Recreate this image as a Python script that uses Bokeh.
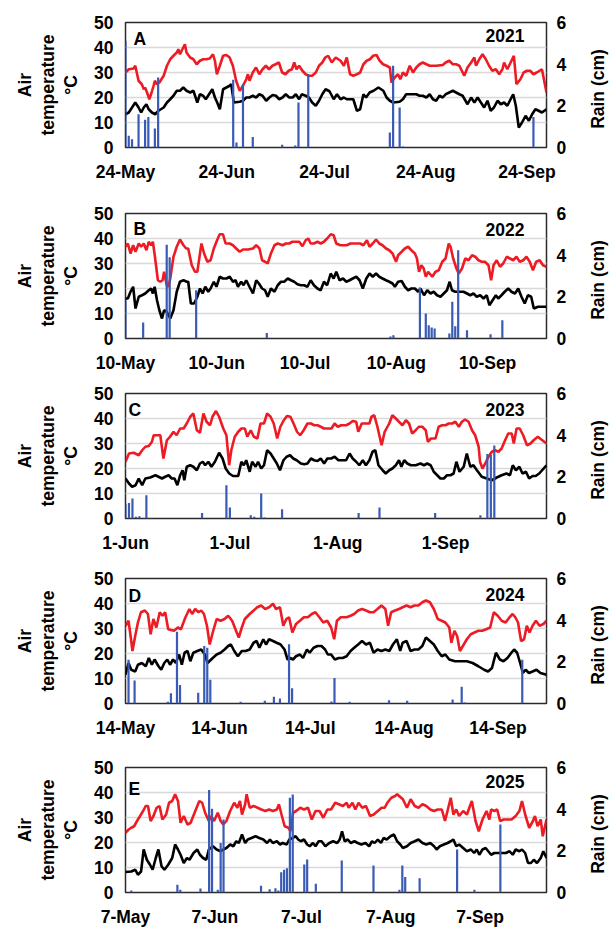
import math
from bokeh.plotting import figure
from bokeh.layouts import column, row
from bokeh.models import Range1d, LinearAxis, FixedTicker, Label
from bokeh.core.properties import value
from bokeh.embed import file_html
from bokeh.resources import INLINE

# ---------------- data (day offset from first date, value) ----------------
# Panel A, 2021: 24-May .. 30-Sep
END_A = 129
TICKS_A = [0, 31, 61, 92, 123]
LABELS_A = ["24-May", "24-Jun", "24-Jul", "24-Aug", "24-Sep"]
TMAX_A = [(0,30),(1,31.3),(2.5,31.6),(3,32.7),(4,26.7),(5,25.3),(5.6,23.3),(6,24),(6.6,22),(7.3,19.3),(8,22),(8.6,24.7),(9,26.7),(9.6,25.3),(10.4,26),(11,27.3),(11.7,28.7),(12.7,32.7),(13.7,35.3),(14.7,36.7),(15.7,38),(16.2,39.3),(16.7,37.3),(17.2,38.7),(18.2,41.3),(18.7,38),(19.8,36),(20.8,35.3),(21.8,33.3),(22.8,34.7),(23.8,35.3),(24.8,35.3),(25.8,35.6),(26.8,37.3),(27.4,34.7),(28,29.3),(28.9,32.7),(29.9,36.7),(30.9,37),(31.9,36),(32.9,32.7),(33.9,26.7),(35,22.7),(36,24.7),(37,27.3),(37.5,29.3),(38,26.7),(39,30),(40,32),(40.5,30.7),(41,29.3),(42,31.3),(43,32.7),(44,31.3),(45,32.7),(46,33.3),(47,34),(48,30),(49,29.3),(50,30.7),(51,31.3),(51.7,34),(52.4,31.3),(53.2,32.7),(54.2,30.7),(55.2,29.3),(56.2,28.7),(57.2,28.7),(58.3,30),(59.3,32.7),(60.3,34),(61.2,36),(62.1,36.7),(63.2,34),(64.4,36),(65.9,34.7),(66.9,32.7),(67.8,36),(68.8,29.3),(69.8,28.7),(70.9,29.3),(71.9,30),(72.9,33.3),(73.9,34.7),(74.9,35.3),(75.9,36.7),(76.9,37),(77.9,34.7),(78.9,33.3),(80,32.7),(81,32),(81.5,26),(82.5,28),(83.5,29.3),(84.2,27.3),(85,30),(86,28.7),(87.1,32.7),(88.1,30),(89.1,32),(90.1,33.3),(91.1,34),(92.2,33.3),(93.2,32.7),(95.2,32.7),(97.2,33),(98.1,34),(99.2,34.7),(100.3,33.3),(101.3,33.3),(102.3,32.7),(103.8,28.7),(104.8,32),(105.9,34),(106.9,36),(107.4,32.7),(108.4,35.3),(109.4,37.3),(110.4,35.3),(111.4,32.7),(112.4,30.7),(113.5,31.3),(114.5,29.3),(115.5,31.3),(116,34),(117,31.3),(118,34),(119,36.7),(119.8,25.3),(121,27.3),(122,30),(123,30.7),(124,30.7),(125,29.3),(126,30),(127.6,31.3),(129,22)]
TMIN_A = [(0,13.3),(1,14),(2,16),(3,18),(4,16),(4.8,14),(5.6,16),(6.4,17.3),(7.1,15.3),(8.1,14),(9.1,13.3),(10.1,14.7),(11.7,16),(12.7,18),(13.7,19.3),(14.7,20.7),(15.7,22.7),(16.7,22.7),(17.7,24),(18.7,22.7),(19.8,22),(20.8,22.7),(22,18),(22.8,21.3),(23.8,20.7),(24.6,19.3),(25.6,21.3),(26.6,23.3),(27.4,20),(28.1,18),(28.9,15.3),(29.9,23.3),(30.9,24),(31.9,24.7),(32.4,25.3),(33.2,18),(35,18.3),(36,18.7),(37,20),(38,20),(39,20.7),(40,20),(41,21.3),(42,20.7),(43.1,18.7),(44.1,20),(45.1,21),(46.1,20.7),(47.1,19.3),(48.1,20),(49.1,21.3),(50.2,20),(51.2,20),(52.2,21.3),(53.2,19.3),(54,21.3),(55.2,20.7),(56.2,20),(57.2,18),(58.3,16.7),(59.3,18.7),(60.3,21.3),(61.3,23.3),(62.5,22.5),(63.8,19.3),(64.8,21.3),(65.9,19.3),(66.9,20),(67.8,19.3),(68.8,19.3),(69.8,19.3),(70.9,14.7),(71.9,15.3),(72.9,21.3),(73.7,20),(74.8,22),(76,22.7),(77.5,24),(79,22.7),(80,20),(81,18.7),(82,18),(84,18.3),(85,19.3),(86,21.3),(88.1,21.3),(89.1,21.3),(90.1,20.7),(91.1,20.7),(92.2,20),(93.2,21.3),(94.2,19.3),(95.2,18.7),(96.2,20.7),(97.2,20),(98.1,21.3),(99.2,22),(100.3,22.7),(101.3,22),(102.3,21.3),(103.3,20.7),(104.8,17.3),(105.9,20),(106.9,18),(107.9,20),(108.9,18),(109.9,16),(110.9,18.7),(111.9,14.7),(112.9,16),(114,18.7),(115,17.3),(116,18),(117,16.7),(118,19.3),(118.8,21.3),(119.6,16.7),(120.5,8),(121.5,10),(122.6,12.7),(123.6,10.7),(124.6,13.3),(125.6,15.3),(126.6,14.7),(127.6,14),(129,15.3)]
RAIN_A = [(0,5.12),(1,0.56),(2,0.4),(4,1.6),(6,1.33),(7,1.47),(9,0.91),(10,3.36),(33,3.25),(34,0.24),(36,3.04),(39,0.5),(48,0.13),(52,0.1),(53,2.16),(56,3.52),(81,0.72),(82,3.92),(84,1.92),(85,0.05),(125,1.47)]

# Panel B, 2022: 10-May .. 30-Sep
END_B = 143
TICKS_B = [0, 31, 61, 92, 123]
LABELS_B = ["10-May", "10-Jun", "10-Jul", "10-Aug", "10-Sep"]
TMAX_B = [(0,36.7),(0.8,38),(1.7,34),(2.6,37.3),(3.4,34.7),(4.5,38),(5.3,36.7),(6.2,38),(7.1,35.3),(7.9,38.7),(8.7,37.3),(9.3,38.7),(10,32.7),(11,23.3),(11.8,22.7),(12.6,23.3),(13.1,26.7),(14,21.3),(14.6,20.7),(15.2,24),(16.3,32.7),(17.4,36.7),(18.5,39.6),(19.7,37.3),(20.6,36),(21.3,36),(22.5,29.3),(23.6,26.7),(24.4,26.7),(25.3,34),(25.8,38),(26.7,34),(27.8,30.7),(28.9,31.3),(30,36),(31.1,39.3),(32,41.7),(33.1,41.7),(34,38),(35.4,38),(36.5,37.3),(37.6,36),(38.8,34.7),(39.9,35.6),(41.6,35.6),(43.3,36),(44.4,37.3),(45.5,36),(46.4,31.3),(47.4,30.7),(48.3,30),(49.4,34),(50.6,37.3),(51.7,38),(53.4,37.3),(54.5,38),(55.6,38),(56.7,38.7),(57.9,38.7),(59,38.7),(60.1,36.9),(61.2,39.3),(62.1,40),(62.9,38),(64,38),(65.2,38.7),(66.3,38),(67.4,38.7),(68.5,40),(69.7,41.7),(70.7,41.3),(71.6,38),(73,37.3),(74.1,37.3),(75.1,37.3),(76.4,38),(77.5,38),(78.6,38),(79.7,38),(80.8,37.3),(82,39.3),(82.9,36.7),(84,38),(85.1,39.6),(86.2,38),(87.3,37.3),(88.5,36),(89.6,35.3),(90.7,34),(91.9,30.7),(92.6,33.3),(93.8,34.7),(94.9,36),(96,36.7),(97.1,35.3),(98.3,34),(99,32),(99.7,26.7),(100.5,29.3),(101.3,28),(102,24.7),(102.8,26.7),(104.2,24.7),(105.3,26.7),(106.4,27.3),(107.6,30.7),(108.7,32),(109.8,38),(110.4,36.7),(111.3,32),(112.4,28),(113.2,26),(114.3,28),(115.4,32),(116.5,31.3),(117.7,33.3),(118.8,32.7),(119.9,31.3),(121,30.7),(122.1,30.7),(123.3,29.3),(124.2,23.3),(125,29.3),(126.1,31.3),(127.2,28.7),(128.3,30),(129.5,32.7),(130.6,32),(131.7,31.3),(132.8,32.7),(133.9,30.7),(135.1,31.3),(136.2,32.7),(137.3,30.7),(138.4,27.3),(139.5,30.7),(140.7,31.3),(141.8,29.3),(143,28.7)]
TMIN_B = [(0,16),(0.8,16),(1.7,18.7),(2.6,20.7),(3.4,12),(4.5,16.7),(5.6,17.3),(6.7,18),(7.9,19.3),(8.7,20),(9.3,18),(9.9,20.7),(10.7,15.3),(11.5,11.3),(12.4,8),(13.1,11.3),(14,10.7),(15.2,8),(16.3,11.3),(17.4,18.7),(18.5,22.7),(19.7,23.3),(20.8,22.7),(21.3,22.7),(22.2,14),(23.3,14),(24.4,16.7),(25.3,20),(26.2,18),(27.1,20.7),(28.1,18.7),(28.9,20),(30,22.7),(30.9,20.7),(32,24.7),(33.1,24),(34.3,24),(35.4,24.7),(36.5,22.7),(37.4,23.3),(38.2,20.7),(39.3,22.7),(40.1,21.3),(41,23.3),(42.1,20.7),(43.3,18),(44.4,23.3),(45.3,22),(46.4,20),(47.4,19.3),(48.3,16.7),(49.4,20),(50.6,18.7),(51.7,21.3),(52.8,22.7),(53.9,22.7),(55.1,24),(56.2,23.3),(57.3,22.7),(58.4,21.7),(59.6,21.3),(60.7,21.3),(61.8,20.7),(62.9,23.3),(64,21.3),(65.2,20),(66.3,19.3),(67.4,22.7),(68.5,21.3),(69.7,26),(70.7,24),(71.6,26.7),(72.7,23.3),(73.9,24),(75,22.7),(76.1,23.3),(77.2,24),(78.4,24.7),(79.5,23.3),(80.6,20),(81.8,24),(82.9,26),(84,24.7),(85.1,26),(86.2,24.7),(87.3,24),(88.5,23.3),(89.6,22.7),(90.7,22),(91.5,20.7),(92.6,22.7),(93.8,23),(94.9,20.7),(96,19.3),(97.1,20),(98.3,20),(99.4,18.7),(100.2,20),(101.4,17.3),(102.5,19.3),(103.6,18),(104.7,18.7),(105.8,17.3),(107,16.7),(108.1,18),(109.2,19.3),(110.1,22.7),(110.9,19.3),(112,18.7),(113.2,18.7),(114.8,18.7),(116,18),(117.1,17.3),(118.2,18),(119.3,16.7),(120.5,17.3),(121.6,16),(122.7,17.3),(123.6,13.3),(124.7,15.3),(125.8,17.3),(126.6,16),(127.7,17.3),(128.8,18.7),(130,20),(131.1,18.7),(132.3,18),(133.4,20),(134.5,16.7),(135.6,14),(136.7,17.3),(137.8,16.7),(138.7,12),(140.1,12.7),(143,12.7)]
RAIN_B = [(0,1.84),(6,0.77),(14,4.5),(15,3.9),(24,2.32),(48,0.27),(90,0.1),(91,0.16),(100,2.45),(102,1.2),(103,0.64),(104,0.53),(105,0.48),(110,0.24),(111,1.76),(112,0.59),(113,4.24),(116,0.4),(124,0.2),(128,0.88)]

# Panel C, 2023: 1-Jun .. 30-Sep
END_C = 121
TICKS_C = [0, 30, 61, 92]
LABELS_C = ["1-Jun", "1-Jul", "1-Aug", "1-Sep"]
TMAX_C = [(0,22.7),(1,26),(2.4,26.3),(3.8,25.3),(4.8,27.3),(5.7,28.7),(6.7,29),(7.6,30.7),(8.1,33.3),(9,33.3),(10,33.3),(10.9,24),(11.9,31.3),(12.8,32.7),(13.8,34.7),(14.7,33.3),(15.7,36),(16.7,36),(17.6,38),(18.6,40.7),(19.5,42),(20.5,35.3),(21.4,34.3),(22.4,42),(23.3,38.7),(24.3,37.3),(25,40.7),(26,43),(26.9,40.7),(28.1,36),(29,33.3),(29.8,21.3),(30.4,27.3),(31.4,32.7),(32.4,34.7),(33.3,36),(34.3,36),(35,32.7),(36,35.3),(36.9,32.7),(37.9,32),(38.8,38),(39.8,38),(40.7,42),(41.7,40.7),(42.6,38),(43.6,32),(44.5,36.7),(45.5,39.3),(46.4,41),(47.4,40.7),(48.3,38),(49.3,34.7),(50.2,33.3),(51.2,35.3),(52.3,38),(53.3,38),(54.2,37.3),(55.2,37.3),(56.1,36.7),(57.1,36),(58,36),(59.2,36),(60.1,38),(61,36.7),(62,37.3),(63.4,37.3),(64.4,38),(65.3,39),(66.3,38.7),(66.9,34.7),(67.9,38),(69.1,38),(70.1,38),(70.7,40.7),(71.5,41.3),(72.4,36.7),(73.6,29.3),(74.5,34.7),(75.8,38),(76.7,41.3),(77.7,40),(78.6,38.7),(79.6,37.3),(80.6,39.3),(81.5,38),(82.4,34),(83.4,35.3),(84.3,36.7),(85.3,36.7),(86.3,35.3),(86.9,30.7),(87.8,32),(89.1,32),(90,36.7),(91,37.3),(92,37.3),(92.9,38),(93.9,38),(94.8,38.7),(95.8,36.7),(96.7,38.7),(97.6,39.6),(98.6,38.7),(99.6,35.3),(100.5,33.3),(101.5,28.7),(101.9,22.7),(102.6,20),(103.4,22),(104.3,24.7),(105.3,26.7),(106.2,27.3),(107.2,26.7),(108.1,28),(109.1,31.3),(110,34),(111,34),(111.6,30),(112.4,36),(113.3,36),(114.3,33.3),(115.4,29.3),(116.4,30),(117.3,31.3),(118.5,32.7),(119.5,31.6),(121,30)]
TMIN_C = [(0,16),(1,14),(1.9,12.7),(2.9,13.3),(3.8,16),(4.8,13.3),(5.7,16),(7.1,16.4),(8.6,17.3),(9.5,16.7),(10.5,16),(11.4,16.7),(12.4,17.3),(13.3,16),(14.1,16),(14.9,13.3),(15.7,17.3),(16.4,19.3),(16.9,15.3),(17.6,20.7),(18.6,21.3),(19.5,20.7),(20.5,19.3),(21.4,22),(22.2,22.7),(22.9,21.3),(23.8,22.7),(24.7,20.7),(25.7,22.7),(26.9,26.3),(27.9,24),(28.8,20),(29.8,18),(30.9,17),(32.4,17),(33.3,22.7),(34,21.3),(34.7,23.3),(35.7,18.7),(36.4,22.7),(37.4,20.7),(38.1,22.7),(39,20),(39.8,21.3),(40.7,27.3),(41.7,26),(42.6,24),(43.5,22),(44.4,19.3),(45.4,23.3),(46.3,24.7),(47.3,25.3),(48.2,24),(49.2,23.3),(50.4,22),(51.4,21.7),(52.3,22),(53.3,24),(54.2,23.3),(55.2,23),(56.1,24),(57.1,22),(58,24),(59.1,24),(60.1,24.7),(61.2,23.3),(62.2,23.3),(63.4,23.3),(64.4,26),(65.3,24),(66.3,22.7),(67.2,21.3),(68.2,23.3),(69.1,21.3),(70.1,23.3),(71,26.7),(71.8,27.3),(72.7,21.3),(73.9,19.3),(74.8,18),(75.8,19.3),(76.7,20),(77.7,21.3),(78.6,23.3),(79.3,20.7),(80.1,23.3),(81,22),(82,21.3),(83.4,21.3),(84.8,22),(85.8,21.3),(86.7,22),(87.7,21.3),(88.6,18.7),(89.6,17.3),(90.5,16),(91.5,16),(92.4,17.3),(93.4,17.3),(94.3,18),(95.1,22.7),(96,18.7),(97.2,20.7),(98.1,26),(99.1,20.7),(100,21.3),(101,19.3),(102.4,16.7),(103.8,16),(105.3,15.3),(106.7,16.4),(108.1,17.3),(109.5,18),(110.5,17.3),(111.3,21.3),(112.2,19.3),(113.2,20.7),(114.1,18),(115.1,18.7),(116,16),(117,17),(117.9,17),(118.9,18),(121,21.3)]
RAIN_C = [(0,0.69),(1,0.75),(2,0.96),(3,0.08),(4,0.11),(6,1.12),(7,0.03),(22,0.27),(29,1.6),(30,0.53),(36,0.16),(37,0.08),(39,1.2),(40,0.05),(45,0.45),(67,0.27),(73,0.53),(89,0.27),(102,0.16),(104,3.1),(105,3.05),(106,3.5)]

# Panel D, 2024: 14-May .. 30-Sep
END_D = 139
TICKS_D = [0, 31, 61, 92, 123]
LABELS_D = ["14-May", "14-Jun", "14-Jul", "14-Aug", "14-Sep"]
TMAX_D = [(0,31),(1,33.1),(1.9,25),(2.3,21),(3.2,27),(4.1,32.4),(5.1,36.5),(6.4,37.2),(7.4,35.8),(8.3,27.7),(9.2,33.8),(10.2,30.4),(11.3,36.5),(12.2,35.1),(13.1,36.5),(14.1,29.7),(16,29.1),(17.3,30.4),(18.3,29.7),(19.8,34.5),(21.1,37.8),(22,35.8),(23,37.8),(24.1,36.5),(25,37.2),(25.9,35.8),(26.9,31.1),(27.8,23.6),(28.8,28.4),(30.1,33.8),(31.4,33.1),(32.7,33.8),(33.9,35.1),(35.2,33.1),(36.5,29.1),(37.4,26.4),(38.4,30.4),(39.4,33.8),(41,35.8),(42.3,37.2),(43.5,38.5),(44.8,39.2),(46.1,37.8),(47.4,38.5),(48.7,39.9),(49.7,37.8),(51,38.5),(52.1,31.1),(53.1,33.8),(54,34.5),(55.1,28.4),(56.3,31.8),(57.6,33.1),(58.9,34.5),(60.2,34.5),(61.5,35.8),(62.7,36.5),(64,34.5),(65.3,32.4),(66.6,33.1),(67.9,30.4),(68.9,25.7),(69.8,33.1),(71.1,34.5),(73,34.5),(74.3,35.1),(75.5,35.8),(76.8,37.2),(78.1,37.8),(79.4,37.2),(80.7,36.5),(81.9,36.5),(83.2,37.8),(84.5,39.2),(85.8,37.8),(86.7,31.1),(87.7,36.5),(89,37.2),(90.3,37.8),(91.5,38.5),(92.8,39.2),(94.1,38.5),(95.4,39.2),(96.7,39.2),(98,40.5),(99.2,41.2),(100.5,40.5),(101.8,37.8),(103.1,33.8),(104.4,33.1),(105.6,32.4),(106.9,30.4),(107.6,24.3),(108.6,29.1),(109.5,27),(110.4,21),(111.4,23),(112.7,25.7),(114,27.7),(115.2,28.4),(116.5,29.1),(117.8,29.1),(119.1,29.7),(120.4,30.4),(121.6,36.5),(122.9,35.1),(124.2,33.1),(125.5,32.4),(126.8,34.5),(127.8,35.8),(128.7,34.5),(129.6,32.4),(130.6,25),(131.6,25.7),(132.5,31.1),(133.4,28.4),(134.4,31.1),(135.5,33.1),(136.7,31.1),(138,31.8),(139,33.1)]
TMIN_D = [(0,11.5),(1,16.2),(1.9,13.5),(3.2,12.8),(4.1,15.5),(5.4,16.2),(6.7,14.9),(7.7,18.2),(8.7,15.5),(9.6,17.6),(10.9,14.9),(11.8,13.5),(12.8,16.2),(13.8,17.6),(14.7,15.5),(15.7,17.6),(16.6,16.2),(17.7,19.6),(18.6,15.5),(19.5,20.3),(20.5,21),(21.4,16.9),(22.4,20.3),(23.7,21),(25,21.6),(26.2,19.6),(27.1,16.2),(28.8,18.2),(30.1,19.6),(31.4,20.3),(32.7,21.6),(33.9,23),(34.8,23.6),(35.9,21),(37.1,18.9),(38.4,21),(39.7,21),(41,21.6),(42.3,24.3),(43.3,25),(44.2,22.3),(45.5,25.7),(46.4,23.6),(47.4,25.7),(48.7,25),(49.9,24.3),(51.2,23.6),(52.5,21.6),(53.5,17.6),(54.4,18.2),(55.3,17.6),(56.3,18.9),(57.6,19.6),(58.6,18.2),(59.9,21.6),(60.8,20.3),(62.1,22.3),(63.4,23),(64.7,23),(65.9,21.6),(66.8,19.6),(67.9,19.6),(69.1,17.6),(70.4,18.2),(71.7,18.2),(73,18.9),(74.3,21),(75.5,22.3),(76.8,23.6),(78.1,25),(79.4,23.6),(80.7,24.3),(81.9,20.3),(83.2,21.6),(84.5,21),(85.8,21.6),(87.1,21),(88.3,23.6),(89.6,25.7),(90.7,21),(91.5,24.3),(92.8,25),(94.1,21),(95.4,21.6),(96.7,21.6),(98,23),(99.2,26.4),(100.5,25),(101.8,23.6),(103.1,21),(104.4,18.9),(105.6,19.6),(106.9,17.6),(108.8,16.9),(110.8,16.9),(112.7,16.9),(114.6,16.2),(116.5,14.9),(118.4,13.5),(119.7,12.8),(121,14.2),(122.3,20.3),(123.6,17.6),(124.8,16.9),(126.1,18.2),(127.4,20.3),(128.3,21.6),(129.3,20.3),(130.3,16.2),(131.2,12.2),(132.1,13.5),(133.2,12.2),(134.4,12.8),(135.7,13.5),(137,12.2),(139,11.5)]
RAIN_D = [(1,2.1),(3,1.1),(14,0.08),(15,0.49),(17,3.44),(18,0.89),(24,0.52),(26,2.76),(27,2.68),(28,1.14),(38,0.08),(46,0.13),(49,0.32),(51,0.24),(54,2.84),(55,0.73),(68,0.1),(69,1.22),(74,0.08),(87,0.16),(93,0.13),(108,0.19),(111,0.81),(112,0.05),(131,2.1)]

# Panel E, 2025: 7-May .. 30-Sep
END_E = 146
TICKS_E = [0, 31, 61, 92, 123]
LABELS_E = ["7-May", "7-Jun", "7-Jul", "7-Aug", "7-Sep"]
TMAX_E = [(0,23.9),(1.1,25.2),(2,25.9),(3,26.5),(4,28.6),(6.1,32.6),(7,34.6),(7.8,34.6),(8.7,28.6),(9.7,30.6),(10.8,33.9),(11.8,34.6),(12.8,29.2),(14.1,31.2),(15.1,35.9),(16.2,36.6),(17.2,39.3),(18.2,36.6),(19.1,27.9),(20.2,30.6),(21.5,27.2),(22.6,27.9),(24.2,32.6),(25.6,36.6),(26.6,35.9),(27.6,31.9),(28.9,28.6),(29.6,30.6),(30.7,28.6),(32,31.9),(33,28.6),(33.9,27.2),(35,28.6),(36.3,32.6),(37.7,35.9),(38.8,33.9),(39.7,36.6),(40.4,31.2),(41.5,35.3),(42,39.3),(43.1,33.9),(44.4,34.6),(45.8,33.9),(47.1,33.2),(48.5,32.6),(49.8,33.2),(51.1,32.6),(52.5,33.2),(53.2,35.3),(54.1,31.2),(55.2,26.5),(56.5,25.9),(57.2,24.5),(58.1,31.9),(59.2,32.6),(60.6,33.9),(61.9,33.2),(63.3,33.9),(64.6,29.2),(65.9,32.6),(67.3,32.6),(68.6,29.9),(70,33.2),(71.3,33.2),(72.7,35.9),(74,35.3),(75.4,34.6),(76.7,35.9),(77.4,33.9),(78.7,35.9),(79.7,33.2),(80.8,35.9),(82.1,33.9),(83.4,34.6),(84.8,30.6),(86.1,31.2),(87.5,32.6),(88.8,33.9),(89.9,33.9),(90.8,35.9),(92.2,37.9),(93.5,38.6),(94.2,39.3),(94.9,38.6),(96.2,37.3),(97.6,33.9),(98.9,37.3),(100.3,34.6),(101.6,33.9),(103,35.3),(104.3,34.6),(105.7,33.2),(107,32.6),(108.3,33.2),(109.7,33.2),(110.8,28.6),(112.8,37.9),(113.7,31.2),(114.7,33.2),(115.7,30.6),(117.1,32.6),(118.4,31.2),(120.1,36.6),(121.4,28.6),(122.5,24.5),(123.8,29.2),(125.2,32.6),(126.2,29.2),(126.8,33.2),(127.9,32.6),(128.9,33.2),(129.9,28.6),(131.2,29.2),(132.6,29.2),(133.9,29.2),(135.3,30.6),(136.6,32.6),(137.5,36.6),(138.6,31.2),(140,25.9),(141.3,28.6),(142,30.6),(142.9,26.5),(144,29.2),(144.7,22.5),(146,29.2)]
TMIN_E = [(0,8.2),(2,8.4),(3.4,9.1),(4.3,7.1),(5.4,8.4),(6.3,17.2),(7.4,13.1),(8.5,11.1),(9.4,9.1),(10.5,13.8),(11.4,17.2),(12.5,10.5),(13.5,9.1),(14.8,11.1),(16.2,13.8),(17.2,19.2),(18.2,17.2),(19.1,15.1),(20.2,11.8),(21.3,13.8),(22.2,13.1),(23.6,15.8),(24.9,17.2),(25.8,15.1),(26.9,13.8),(28,13.1),(28.9,17.2),(30.3,18.5),(31.6,17.2),(33,16.5),(33.9,17.2),(35,17.8),(36.3,19.2),(37.4,18.5),(38.4,20.5),(39.3,19.8),(40.4,23.2),(41.5,19.8),(42.4,21.2),(43.7,21.8),(45.1,22.5),(46.4,21.8),(47.8,21.2),(49.1,19.8),(50.1,21.2),(51.1,19.8),(52.5,20.5),(53.6,19.2),(54.5,19.8),(55.9,19.2),(56.8,21.2),(57.9,21.8),(59,22.5),(59.9,21.2),(60.8,20.5),(61.9,21.2),(63,19.2),(63.9,18.5),(65,19.8),(65.9,18.5),(67,20.5),(68,20.5),(69.3,18.5),(70.7,19.8),(72,20.5),(73.4,19.8),(74.3,21.2),(75.1,24.5),(76,20.5),(77.1,21.2),(78.1,19.8),(79.4,20.5),(80.5,19.8),(81.8,19.2),(83.2,19.8),(84.5,18.5),(85.5,20.5),(86.4,19.8),(87.5,21.2),(88.6,19.8),(89.5,21.8),(90.6,21.2),(91.9,22.5),(93.1,23.2),(94.2,20.5),(95.3,19.2),(96.2,17.8),(97.6,18.5),(98.9,19.8),(100.3,20.5),(101.6,21.2),(103,19.8),(104.3,19.2),(105.7,19.8),(107,18.5),(107.9,17.2),(109,18.5),(110.4,19.2),(111.7,19.8),(112.8,20.5),(113.7,21.2),(114.7,18.5),(115.7,19.2),(117.1,17.8),(118.4,16.5),(119.8,17.2),(120.9,15.8),(121.8,17.2),(122.7,15.1),(123.8,17.2),(124.9,17.8),(125.8,16.5),(126.8,15.1),(127.9,15.8),(129.2,15.8),(130.6,15.8),(131.9,15.8),(133.2,16.5),(134.3,15.1),(135.3,17.2),(136.6,16.5),(137.5,17.2),(138.6,15.8),(139.6,11.8),(140.6,11.8),(141.6,13.1),(142.7,11.8),(144,13.8),(144.9,16.5),(146,13.8)]
RAIN_E = [(2,0.1),(18,0.37),(19,0.13),(26,0.19),(29,4.92),(30,4.02),(32,0.13),(33,2.38),(34,3.51),(47,0.32),(50,0.16),(52,0.21),(53,0.1),(54,0.97),(55,1.09),(56,1.17),(57,4.55),(58,4.71),(62,1.34),(63,1.58),(66,0.42),(75,1.54),(86,1.3),(95,0.13),(96,1.3),(97,0.74),(102,0.69),(115,2.06),(121,0.13),(130,3.27)]

TEMP_TICKS = [0, 10, 20, 30, 40, 50]
RAIN_TICKS = [0, 2, 4, 6]

# ---------------- styling ----------------
FONT = "Liberation Sans"
FS = "17.5px"
RED = "#ed1c24"
BLUE = "#3a5bb5"
FRAME_W = 421
FRAME_H = 125
BAR_PX = 2.2
MAIN_RIGHT = 34   # space for right tick labels
SIDE_W = 29       # strip holding the rotated "Rain (cm)" title

PANELS = [
    # letter, year, end, ticks, labels, tmax, tmin, rain, top, bottom, letter dx, letter dy, year dy
    ("A", "2021", END_A, TICKS_A, LABELS_A, TMAX_A, TMIN_A, RAIN_A, 22, 41, 8, 9, 9),
    ("B", "2022", END_B, TICKS_B, LABELS_B, TMAX_B, TMIN_B, RAIN_B, 25, 40, 8, 8, 12),
    ("C", "2023", END_C, TICKS_C, LABELS_C, TMAX_C, TMIN_C, RAIN_C, 15, 40, 3, 9, 12),
    ("D", "2024", END_D, TICKS_D, LABELS_D, TMAX_D, TMIN_D, RAIN_D, 20, 40, 3, 10, 12),
    ("E", "2025", END_E, TICKS_E, LABELS_E, TMAX_E, TMIN_E, RAIN_E, 24, 36, 3, 14, 10),
]


def make_panel(letter, year, end, ticks, labels, tmax, tmin, rain, top, bottom, ldx, ldy, ydy):
    p = figure(frame_width=FRAME_W, frame_height=FRAME_H,
               x_range=Range1d(0, end), y_range=Range1d(0, 50),
               output_backend="svg", toolbar_location=None,
               min_border_left=125, min_border_right=MAIN_RIGHT,
               min_border_top=top, min_border_bottom=bottom,
               background_fill_color="white", border_fill_color="white")
    p.outline_line_color = "#2b2b2b"
    p.outline_line_width = 1.5
    p.xgrid.visible = False
    p.ygrid.grid_line_color = "#d9d9d9"
    p.ygrid.grid_line_width = 1.5
    p.ygrid.ticker = FixedTicker(ticks=TEMP_TICKS)

    p.extra_y_ranges = {"rain": Range1d(0, 6)}

    p.line([d for d, _ in tmax], [v for _, v in tmax], line_color=RED, line_width=2.6)
    p.line([d for d, _ in tmin], [v for _, v in tmin], line_color="black", line_width=2.6)
    w = BAR_PX * end / FRAME_W
    p.vbar(x=[d for d, _ in rain], top=[v for _, v in rain], width=w, bottom=0,
           y_range_name="rain", fill_color=BLUE, line_color=None)

    xa = p.xaxis[0]
    xa.ticker = FixedTicker(ticks=ticks)
    xa.major_label_overrides = {t: s for t, s in zip(ticks, labels)}
    ya = p.yaxis[0]
    ya.ticker = FixedTicker(ticks=TEMP_TICKS)
    ya.axis_label = "Air\ntemperature\n°C"
    ry = LinearAxis(y_range_name="rain", ticker=FixedTicker(ticks=RAIN_TICKS))
    p.add_layout(ry, "right")

    for ax in (xa, ya, ry):
        ax.axis_line_color = None
        ax.major_tick_line_color = None
        ax.minor_tick_line_color = None
        ax.major_tick_out = 0
        ax.major_tick_in = 0
        ax.major_label_text_font = FONT
        ax.major_label_text_font_style = "bold"
        ax.major_label_text_font_size = FS
        ax.major_label_text_color = "black"
        ax.axis_label_text_font = FONT
        ax.axis_label_text_font_style = "bold"
        ax.axis_label_text_font_size = FS
        ax.axis_label_text_color = "black"
    xa.major_label_standoff = 14
    ya.major_label_standoff = 12
    ya.axis_label_standoff = 10
    ya.axis_label_text_line_height = 1.15
    ry.major_label_standoff = 10

    p.add_layout(Label(x=0, y=50, x_offset=ldx, y_offset=-(ldy - 3), text=letter,
                       text_baseline="top", text_align="left", text_color="black",
                       text_font=FONT, text_font_style="bold", text_font_size=FS))
    p.add_layout(Label(x=end, y=50, x_offset=-22, y_offset=-(ydy - 3), text=year,
                       text_baseline="top", text_align="right", text_color="black",
                       text_font=FONT, text_font_style="bold", text_font_size=FS))

    # narrow strip on the right carrying the rain axis title (reads bottom to top)
    s = figure(frame_width=SIDE_W, frame_height=FRAME_H,
               x_range=Range1d(0, SIDE_W), y_range=Range1d(0, FRAME_H),
               output_backend="svg", toolbar_location=None,
               min_border_left=0, min_border_right=0,
               min_border_top=top, min_border_bottom=bottom,
               background_fill_color="white", border_fill_color="white")
    s.axis.visible = False
    s.grid.visible = False
    s.outline_line_color = None
    s.text(x=[17], y=[FRAME_H / 2 - 4], text=["Rain (cm)"], angle=math.pi / 2,
           text_align="center", text_baseline="middle", text_color="black",
           text_font=value(FONT), text_font_style="bold", text_font_size=value(FS))
    return row(p, s, spacing=0)


rows = [make_panel(*cfg) for cfg in PANELS]
layout = column(*rows, spacing=0)
open("out.html", "w").write(file_html(layout, INLINE))
